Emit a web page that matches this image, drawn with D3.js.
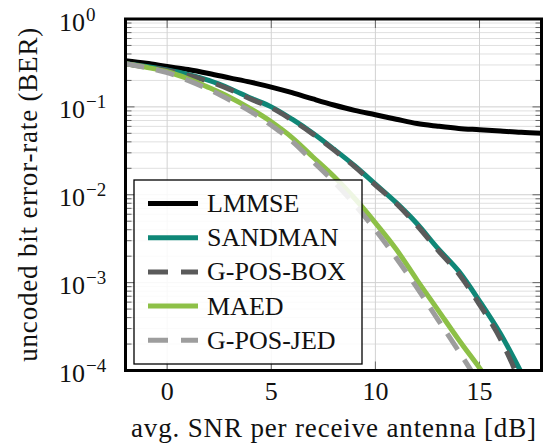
<!DOCTYPE html>
<html>
<head>
<meta charset="utf-8">
<script src="https://cdn.jsdelivr.net/npm/d3@7"></script>
<style>
  html, body { margin: 0; padding: 0; background: #fff; }
  svg { display: block; }
</style>
</head>
<body>
<svg id="chart" width="544" height="445" font-family="'Liberation Serif', 'Times New Roman', Tinos, 'DejaVu Serif', serif"></svg>
<script>
// SNR grid (dB) shared by all curves
const snr = [-2, -1, 0, 1, 2, 3, 4, 5, 6, 7, 8, 9, 10, 11, 12, 13, 14, 15, 16, 17, 18];

// uncoded BER per detector
const lmmse    = [0.335, 0.313, 0.288, 0.266, 0.240, 0.214, 0.191, 0.168, 0.145, 0.123, 0.105,
                  0.0912, 0.0813, 0.0724, 0.0646, 0.0603, 0.0569, 0.0550, 0.0531, 0.0513, 0.0501];
const sandman  = [0.309, 0.288, 0.263, 0.234, 0.200, 0.162, 0.126, 0.100, 0.0724, 0.0501, 0.0331,
                  0.0214, 0.0132, 0.00813, 0.00468, 0.00245, 0.00135, 0.000617, 0.000263, 0.0000955];
const gposBox  = [0.309, 0.285, 0.260, 0.229, 0.195, 0.158, 0.123, 0.0977, 0.0708, 0.0490, 0.0324,
                  0.0209, 0.0129, 0.00794, 0.00447, 0.00234, 0.00126, 0.000562, 0.000229, 0.0000692];
const maed     = [0.309, 0.282, 0.251, 0.209, 0.166, 0.129, 0.0955, 0.0676, 0.0447, 0.0269, 0.0162,
                  0.00912, 0.00479, 0.00240, 0.00107, 0.000490, 0.000224, 0.000107, 0.0000501];
const gposJed  = [0.309, 0.279, 0.245, 0.200, 0.158, 0.120, 0.0891, 0.0617, 0.0407, 0.0240, 0.0141,
                  0.00776, 0.00398, 0.00191, 0.000871, 0.000380, 0.000166, 0.0000708];

const seriesNames = ["LMMSE", "SANDMAN", "G-POS-BOX", "MAED", "G-POS-JED"];
const seriesData  = [lmmse, sandman, gposBox, maed, gposJed];

const xTickValues = [0, 5, 10, 15];
const yTickExponents = [0, -1, -2, -3, -4];

const xLabel = "avg. SNR per receive antenna [dB]";
const yLabel = "uncoded bit error-rate (BER)";

// line styles
const styles = [
  { color: "#000000", dash: null },
  { color: "#0f8777", dash: null },
  { color: "#5a5a5a", dash: "19 12" },
  { color: "#8dc047", dash: null },
  { color: "#9d9d9d", dash: "19 12" }
];

const svg = d3.select("#chart");
const plot = { left: 125.5, right: 541.5, top: 19, bottom: 370.5 };

const x = d3.scaleLinear().domain([-2, 18]).range([plot.left, plot.right + 0.5]);
const y = d3.scaleLog().domain([1e-4, 1]).range([plot.bottom, plot.top]);

// grid
const grid = svg.append("g");
const minorVals = [];
for (let e = -4; e < 0; e++) for (let m = 2; m <= 9; m++) minorVals.push(m * Math.pow(10, e));
const majorVals = yTickExponents.map(e => Math.pow(10, e));

grid.selectAll("line.minor").data(minorVals).join("line")
  .attr("x1", plot.left).attr("x2", plot.right)
  .attr("y1", d => y(d)).attr("y2", d => y(d))
  .attr("stroke", "#e0e0e0").attr("stroke-width", 1);
grid.selectAll("line.majorY").data(majorVals).join("line")
  .attr("x1", plot.left).attr("x2", plot.right)
  .attr("y1", d => y(d)).attr("y2", d => y(d))
  .attr("stroke", "#cfcfcf").attr("stroke-width", 1);
grid.selectAll("line.majorX").data(xTickValues).join("line")
  .attr("x1", d => x(d)).attr("x2", d => x(d))
  .attr("y1", plot.top).attr("y2", plot.bottom)
  .attr("stroke", "#d2d2d2").attr("stroke-width", 1);

// inner tick marks on all four sides
const ticks = svg.append("g").attr("stroke", "#666").attr("stroke-width", 1);
minorVals.forEach(v => {
  ticks.append("line").attr("x1", plot.left).attr("x2", plot.left + 6).attr("y1", y(v)).attr("y2", y(v));
  ticks.append("line").attr("x1", plot.right - 6).attr("x2", plot.right).attr("y1", y(v)).attr("y2", y(v));
});
majorVals.forEach(v => {
  ticks.append("line").attr("x1", plot.left).attr("x2", plot.left + 9).attr("y1", y(v)).attr("y2", y(v));
  ticks.append("line").attr("x1", plot.right - 9).attr("x2", plot.right).attr("y1", y(v)).attr("y2", y(v));
});
xTickValues.forEach(v => {
  ticks.append("line").attr("x1", x(v)).attr("x2", x(v)).attr("y1", plot.bottom).attr("y2", plot.bottom - 9);
  ticks.append("line").attr("x1", x(v)).attr("x2", x(v)).attr("y1", plot.top).attr("y2", plot.top + 9);
});

// curves
svg.append("clipPath").attr("id", "plotClip").append("rect")
  .attr("x", plot.left).attr("y", plot.top)
  .attr("width", plot.right - plot.left).attr("height", plot.bottom - plot.top);

const line = d3.line()
  .x(d => x(d[0]))
  .y(d => y(d[1]))
  .curve(d3.curveMonotoneX);

const curves = svg.append("g").attr("clip-path", "url(#plotClip)");
seriesData.forEach((vals, i) => {
  const pts = vals.map((v, k) => [snr[k], v]);
  curves.append("path")
    .attr("d", line(pts))
    .attr("fill", "none")
    .attr("stroke", styles[i].color)
    .attr("stroke-width", 5)
    .attr("stroke-dasharray", styles[i].dash)
    .attr("stroke-linejoin", "round");
});

// legend
const legend = svg.append("g");
legend.append("rect")
  .attr("x", 134).attr("y", 180).attr("width", 228).attr("height", 184)
  .attr("fill", "#fff").attr("fill-opacity", 0.85)
  .attr("stroke", "#000").attr("stroke-width", 1.3);
seriesNames.forEach((name, i) => {
  const ry = 203.5 + i * 34.2;
  legend.append("line")
    .attr("x1", 148).attr("x2", 198).attr("y1", ry).attr("y2", ry)
    .attr("stroke", styles[i].color).attr("stroke-width", 5)
    .attr("stroke-dasharray", styles[i].dash ? "20 13" : null);
  legend.append("text")
    .attr("x", 207).attr("y", ry + 8.5)
    .attr("font-size", 26).attr("fill", "#111")
    .text(name);
});

// frame
svg.append("rect")
  .attr("x", plot.left).attr("y", plot.top)
  .attr("width", plot.right - plot.left).attr("height", plot.bottom - plot.top)
  .attr("fill", "none").attr("stroke", "#000").attr("stroke-width", 3);

// x tick labels
svg.append("g").selectAll("text").data(xTickValues).join("text")
  .attr("x", d => x(d)).attr("y", 400)
  .attr("text-anchor", "middle").attr("font-size", 26).attr("fill", "#111")
  .text(d => d);

// y tick labels (10^e)
const yl = svg.append("g").selectAll("text").data(yTickExponents).join("text")
  .attr("x", 59).attr("y", d => y(Math.pow(10, d)) + 11.5)
  .attr("font-size", 26).attr("fill", "#111");
yl.append("tspan").text("10");
yl.append("tspan").attr("dx", 1).attr("dy", -10).attr("font-size", 19)
  .text(d => d === 0 ? "0" : "\u2212" + Math.abs(d));

// axis titles
svg.append("text")
  .attr("x", (plot.left + plot.right) / 2).attr("y", 437)
  .attr("text-anchor", "middle").attr("font-size", 27).attr("fill", "#111")
  .attr("textLength", 405).attr("lengthAdjust", "spacing")
  .text(xLabel);
svg.append("text")
  .attr("transform", `translate(36.5,${(plot.top + plot.bottom) / 2}) rotate(-90)`)
  .attr("text-anchor", "middle").attr("font-size", 27).attr("fill", "#111")
  .attr("textLength", 334).attr("lengthAdjust", "spacing")
  .text(yLabel);
</script>
</body>
</html>
